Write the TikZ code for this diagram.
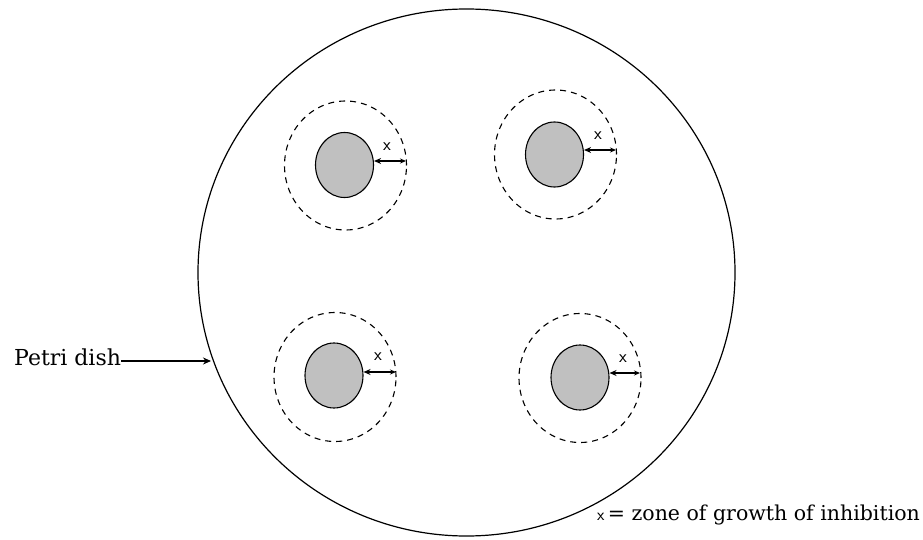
\documentclass[tikz,border=0pt]{standalone}
\usepackage{fontspec}
\setmainfont{DejaVu Serif}
\usetikzlibrary{shapes.geometric,arrows.meta}
\begin{document}
\begin{tikzpicture}[x=1pt,y=-1pt,
  dishline/.style={draw=black,line width=1.2pt},
  zone/.style={ellipse,draw=black,line width=1.1pt,dash pattern=on 6pt off 5pt,
    minimum width=122pt,minimum height=129pt,inner sep=0pt},
  disc/.style={ellipse,draw=black,line width=1.1pt,fill={rgb,255:red,192;green,192;blue,192},
    minimum width=58pt,minimum height=65pt,inner sep=0pt},
  meas/.style={line width=1.1pt,{Stealth[length=7pt,width=6pt]}-{Stealth[length=6pt,width=5pt]}},
  xlab/.style={font=\fontsize{18}{18}\selectfont\sffamily,inner sep=0pt},
  every node/.style={text=black}]
\useasboundingbox (0,0) rectangle (923,540);
% Petri dish
\node[ellipse,dishline,minimum width=537pt,minimum height=527pt,inner sep=0pt] (dish) at (466.5,272.5) {};
% discs
\node[zone] (z1) at (345.5,165.5) {};
\node[disc] (d1) at (344.5,165) {};
\node[zone] (z2) at (555.5,154.5) {};
\node[disc] (d2) at (554.5,154.5) {};
\node[zone] (z3) at (335,377) {};
\node[disc] (d3) at (334,375.5) {};
\node[zone] (z4) at (580,378) {};
\node[disc] (d4) at (580,377.5) {};
% measurement arrows
\coordinate (a1) at (406,161);
\coordinate (a2) at (616,150);
\coordinate (a3) at (396,372);
\coordinate (a4) at (640,373);
\draw[meas] (d1.east |- a1) -- (a1);
\draw[meas] (d2.east |- a2) -- (a2);
\draw[meas] (d3.east |- a3) -- (a3);
\draw[meas] (d4.east |- a4) -- (a4);
\node[xlab] (x1) at (387,147) {x};
\node[xlab] (x2) at (598,136) {x};
\node[xlab] (x3) at (378,357) {x};
\node[xlab] (x4) at (623,359) {x};
% Petri dish label
\node[anchor=west,inner sep=0pt,font=\fontsize{22}{22}\selectfont] (pd) at (14,357) {Petri dish};
\coordinate (pdtip) at (211,361);
\draw[line width=1.1pt,-{Stealth[length=8pt,width=7pt]}] (pd.east |- pdtip) -- (pdtip);
% legend
\node[anchor=west,inner sep=0pt,font=\fontsize{20.5}{20.5}\selectfont] (leg) at (597,515)
  {{\fontsize{17}{17}\selectfont\sffamily x}\,= zone of growth of inhibition};
\end{tikzpicture}
\end{document}
